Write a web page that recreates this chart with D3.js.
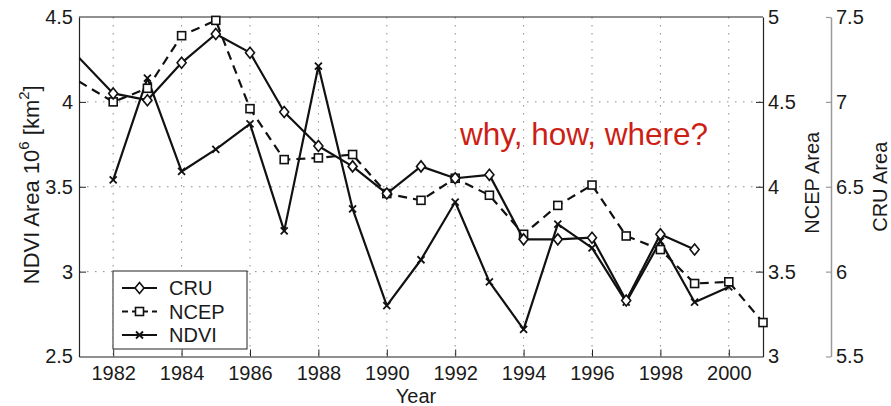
<!DOCTYPE html>
<html>
<head>
<meta charset="utf-8">
<script src="https://cdn.jsdelivr.net/npm/d3@7"></script>
<style>
  html, body { margin: 0; padding: 0; background: #fff; }
  svg { display: block; }
  text { font-family: "Liberation Sans", Arial, Helvetica, sans-serif; fill: #1a1a1a; }
</style>
</head>
<body>
<svg id="chart" width="891" height="406"></svg>
<script>
// Annual series, 1981-2001
const years = [1981, 1982, 1983, 1984, 1985, 1986, 1987, 1988, 1989, 1990, 1991,
               1992, 1993, 1994, 1995, 1996, 1997, 1998, 1999, 2000, 2001];

// CRU area (right outer axis), 1981-1999
const cruValues = [7.26, 7.05, 7.01, 7.23, 7.40, 7.29, 6.94, 6.74, 6.62, 6.46, 6.62,
                   6.55, 6.57, 6.19, 6.19, 6.20, 5.83, 6.22, 6.13, null, null];
// NCEP area (right inner axis), 1981-2001
const ncepValues = [4.62, 4.50, 4.58, 4.89, 4.98, 4.46, 4.16, 4.17, 4.19, 3.96, 3.92,
                    4.05, 3.95, 3.72, 3.89, 4.01, 3.71, 3.63, 3.43, 3.44, 3.20];
// NDVI area 10^6 km^2 (left axis), 1982-2000
const ndviValues = [null, 3.54, 4.14, 3.59, 3.72, 3.87, 3.24, 4.21, 3.37, 2.80, 3.07,
                    3.41, 2.94, 2.66, 3.28, 3.14, 2.82, 3.18, 2.82, 2.91, null];

const xTicks = [1982, 1984, 1986, 1988, 1990, 1992, 1994, 1996, 1998, 2000];
const ndviTicks = [2.5, 3, 3.5, 4, 4.5];
const ncepTicks = [3, 3.5, 4, 4.5, 5];
const cruTicks = [5.5, 6, 6.5, 7, 7.5];

const legendLabels = ["CRU", "NCEP", "NDVI"];

const svg = d3.select("#chart");
const L = 79, R = 763, T = 17, B = 356.5;

const x = d3.scaleLinear().domain([1981, 2001]).range([L, R]);
const yNdvi = d3.scaleLinear().domain([2.5, 4.5]).range([B, T]);
const yNcep = d3.scaleLinear().domain([3, 5]).range([B, T]);
const yCru = d3.scaleLinear().domain([5.5, 7.5]).range([B, T]);

const fmt = d => (Number.isInteger(d) ? d3.format("d")(d) : d3.format(".1f")(d));

svg.append("defs").append("clipPath").attr("id", "plotClip")
  .append("rect").attr("x", L).attr("y", T).attr("width", R - L).attr("height", B - T);

// dotted grid
const grid = svg.append("g");
grid.selectAll("line.gx").data(xTicks).join("line")
  .attr("x1", d => x(d)).attr("x2", d => x(d)).attr("y1", T).attr("y2", B)
  .attr("stroke", "#8a8a8a").attr("stroke-width", 1).attr("stroke-dasharray", "1.5,6.5");
grid.selectAll("line.gy").data([3, 3.5, 4]).join("line")
  .attr("x1", L).attr("x2", R).attr("y1", d => yNdvi(d)).attr("y2", d => yNdvi(d))
  .attr("stroke", "#8a8a8a").attr("stroke-width", 1).attr("stroke-dasharray", "1.5,6.5");

// axes
const tickLen = 7;
const xAxis = svg.append("g").attr("transform", `translate(0,${B})`)
  .call(d3.axisBottom(x).tickValues(xTicks).tickFormat(d3.format("d")).tickSizeInner(-tickLen).tickSizeOuter(0).tickPadding(9));
const yLeft = svg.append("g").attr("transform", `translate(${L},0)`)
  .call(d3.axisLeft(yNdvi).tickValues(ndviTicks).tickFormat(fmt).tickSizeInner(-tickLen).tickSizeOuter(0).tickPadding(6));
const yRight = svg.append("g").attr("transform", `translate(${R},0)`)
  .call(d3.axisRight(yNcep).tickValues(ncepTicks).tickFormat(fmt).tickSizeInner(-tickLen).tickSizeOuter(0).tickPadding(5));
const yCruAxis = svg.append("g").attr("transform", `translate(831,0)`)
  .call(d3.axisRight(yCru).tickValues(cruTicks).tickFormat(fmt).tickSizeInner(-5).tickSizeOuter(0).tickPadding(5));

[xAxis, yLeft, yRight].forEach(g => {
  g.select(".domain").attr("stroke", "#222").attr("stroke-width", 1.2);
  g.selectAll(".tick line").attr("stroke", "#222").attr("stroke-width", 1);
});
yCruAxis.select(".domain").attr("stroke", "#9a9a9a").attr("stroke-width", 1.5);
yCruAxis.selectAll(".tick line").attr("stroke", "#9a9a9a").attr("stroke-width", 1.2);
[xAxis, yLeft, yRight, yCruAxis].forEach(g =>
  g.selectAll(".tick text").style("font-size", "20px").attr("fill", "#1a1a1a")
   .style("font-family", '"Liberation Sans", Arial, Helvetica, sans-serif'));
// the left and right axis ticks at the ends coincide with the frame
yLeft.selectAll(".tick line").filter(d => d === 2.5 || d === 4.5).remove();
yRight.selectAll(".tick line").filter(d => d === 3 || d === 5).remove();

// top frame line
svg.append("line").attr("x1", L).attr("x2", R).attr("y1", T).attr("y2", T)
  .attr("stroke", "#222").attr("stroke-width", 1.2);

// axis titles
svg.append("text").attr("x", 416).attr("y", 403).attr("text-anchor", "middle")
  .style("font-size", "20px").text("Year");

const ylab = svg.append("text").attr("transform", `translate(39,${(T + B) / 2 - 2}) rotate(-90)`)
  .attr("text-anchor", "middle").style("font-size", "22px");
ylab.append("tspan").text("NDVI Area 10");
ylab.append("tspan").attr("dy", -10).style("font-size", "15px").text("6");
ylab.append("tspan").attr("dy", 10).text(" [km");
ylab.append("tspan").attr("dy", -10).style("font-size", "15px").text("2");
ylab.append("tspan").attr("dy", 10).text("]");

svg.append("text").attr("transform", `translate(819,${(T + B) / 2 - 4}) rotate(-90)`)
  .attr("text-anchor", "middle").style("font-size", "20px").text("NCEP Area");
svg.append("text").attr("transform", `translate(887,${(T + B) / 2}) rotate(-90)`)
  .attr("text-anchor", "middle").style("font-size", "20px").text("CRU Area");

// series
const series = [
  { name: "NDVI", values: ndviValues, y: yNdvi, dash: null, marker: "x" },
  { name: "NCEP", values: ncepValues, y: yNcep, dash: "9,6", marker: "square" },
  { name: "CRU", values: cruValues, y: yCru, dash: null, marker: "diamond" }
];

function drawMarker(g, type, cx, cy) {
  if (type === "diamond") {
    g.append("path").attr("d", `M${cx},${cy - 5.5}L${cx + 4.5},${cy}L${cx},${cy + 5.5}L${cx - 4.5},${cy}Z`)
      .attr("fill", "#fff").attr("stroke", "#111").attr("stroke-width", 1.6);
  } else if (type === "square") {
    g.append("rect").attr("x", cx - 4).attr("y", cy - 4).attr("width", 8).attr("height", 8)
      .attr("fill", "#fff").attr("stroke", "#111").attr("stroke-width", 1.6);
  } else {
    g.append("path").attr("d", `M${cx - 3.5},${cy - 3.5}L${cx + 3.5},${cy + 3.5}M${cx - 3.5},${cy + 3.5}L${cx + 3.5},${cy - 3.5}`)
      .attr("stroke", "#111").attr("stroke-width", 1.8).attr("fill", "none");
  }
}

const plot = svg.append("g");
series.forEach(s => {
  const pts = years.map((yr, i) => ({ year: yr, v: s.values[i] })).filter(d => d.v !== null);
  const line = d3.line().x(d => x(d.year)).y(d => s.y(d.v));
  plot.append("path").datum(pts).attr("d", line)
    .attr("clip-path", "url(#plotClip)")
    .attr("fill", "none").attr("stroke", "#111").attr("stroke-width", 2.2)
    .attr("stroke-linejoin", "round")
    .attr("stroke-dasharray", s.dash);
  const mg = plot.append("g");
  pts.filter(d => d.year > x.domain()[0])
    .forEach(d => drawMarker(mg, s.marker, x(d.year), s.y(d.v)));
});

// legend
const lg = svg.append("g");
lg.append("rect").attr("x", 113).attr("y", 271).attr("width", 134).attr("height", 78)
  .attr("fill", "#fff").attr("stroke", "#222").attr("stroke-width", 1);
const legendStyle = { CRU: { dash: null, marker: "diamond" }, NCEP: { dash: "6,4", marker: "square" }, NDVI: { dash: null, marker: "x" } };
legendLabels.forEach((name, i) => {
  const cy = 288 + i * 23.5;
  lg.append("line").attr("x1", 122).attr("x2", 157).attr("y1", cy).attr("y2", cy)
    .attr("stroke", "#111").attr("stroke-width", 2.2).attr("stroke-dasharray", legendStyle[name].dash);
  drawMarker(lg, legendStyle[name].marker, 139.5, cy);
  lg.append("text").attr("x", 169).attr("y", cy + 7).style("font-size", "20px").text(name);
});
// bottom ticks show below the legend frame
svg.node().appendChild(xAxis.node());

// annotation
svg.append("text").attr("x", 460).attr("y", 145).style("font-size", "31.5px")
  .style("fill", "#cc1f16").text("why, how, where?");
</script>
</body>
</html>
